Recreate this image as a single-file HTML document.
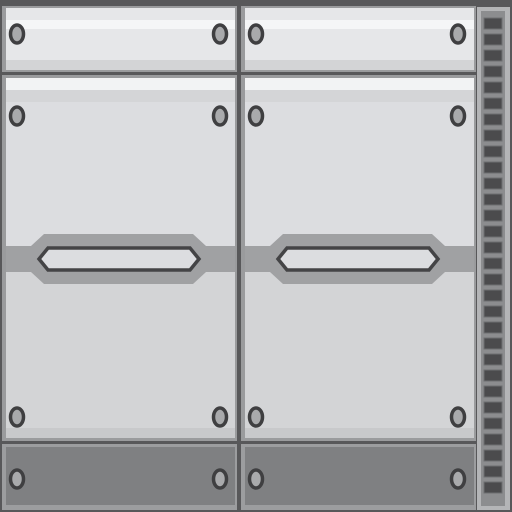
<!DOCTYPE html>
<html><head><style>body{margin:0;background:#555}svg{display:block}</style></head><body>
<svg width="512" height="512" viewBox="0 0 512 512" xmlns="http://www.w3.org/2000/svg">
<rect width="512" height="512" fill="#58585a"/>
<defs>
<g id="screw"><ellipse rx="6.5" ry="9" fill="#a9aaac" stroke="#3f3f41" stroke-width="3.5"/></g>
</defs>
<g>
<rect x="2" y="6" width="235" height="66" fill="#9a9b9d"/>
<rect x="6" y="8" width="229" height="62" fill="#e6e7e9"/>
<rect x="6" y="20" width="229" height="9" fill="#f5f6f7"/>
<rect x="6" y="60" width="229" height="10" fill="#d3d4d6"/>
<rect x="241" y="6" width="235" height="66" fill="#9a9b9d"/>
<rect x="245" y="8" width="229" height="62" fill="#e6e7e9"/>
<rect x="245" y="20" width="229" height="9" fill="#f5f6f7"/>
<rect x="245" y="60" width="229" height="10" fill="#d3d4d6"/>
</g>
<g>
<rect x="2" y="75" width="235" height="366" fill="#9a9b9d"/>
<rect x="6" y="78" width="229" height="360" fill="#dcdde0"/>
<rect x="6" y="78" width="229" height="12" fill="#f2f3f4"/>
<rect x="6" y="90" width="229" height="12" fill="#d4d5d7"/>
<rect x="6" y="272" width="229" height="166" fill="#d3d4d6"/>
<rect x="6" y="428" width="229" height="10" fill="#c8c9cb"/>
<rect x="241" y="75" width="235" height="366" fill="#9a9b9d"/>
<rect x="245" y="78" width="229" height="360" fill="#dcdde0"/>
<rect x="245" y="78" width="229" height="12" fill="#f2f3f4"/>
<rect x="245" y="90" width="229" height="12" fill="#d4d5d7"/>
<rect x="245" y="272" width="229" height="166" fill="#d3d4d6"/>
<rect x="245" y="428" width="229" height="10" fill="#c8c9cb"/>
</g>
<rect x="6" y="246" width="229" height="26" fill="#a0a1a3"/>
<polygon points="44,234 193,234 206,246 206,272 193,284 44,284 31,272 31,246" fill="#a0a1a3"/>
<polygon points="48,248 190,248 199,259 190,270 48,270 39,259" fill="#dcdde0" stroke="#444446" stroke-width="3.5"/>
<rect x="245" y="246" width="229" height="26" fill="#a0a1a3"/>
<polygon points="283,234 432,234 445,246 445,272 432,284 283,284 270,272 270,246" fill="#a0a1a3"/>
<polygon points="287,248 429,248 438,259 429,270 287,270 278,259" fill="#dcdde0" stroke="#444446" stroke-width="3.5"/>
<rect x="2" y="444" width="235" height="66" fill="#9c9d9f"/>
<rect x="6" y="447" width="229" height="58" fill="#7f8082"/>
<rect x="241" y="444" width="235" height="66" fill="#9c9d9f"/>
<rect x="245" y="447" width="229" height="58" fill="#7f8082"/>
<rect x="477" y="7" width="33" height="503" fill="#b4b5b7"/>
<rect x="481" y="11" width="24" height="495" fill="#8c8d8f"/>
<g fill="#4b4b4d" stroke="#6e6f71" stroke-width="1">
<rect x="484" y="18" width="18" height="11"/><rect x="484" y="34" width="18" height="11"/><rect x="484" y="50" width="18" height="11"/><rect x="484" y="66" width="18" height="11"/><rect x="484" y="82" width="18" height="11"/><rect x="484" y="98" width="18" height="11"/><rect x="484" y="114" width="18" height="11"/><rect x="484" y="130" width="18" height="11"/><rect x="484" y="146" width="18" height="11"/><rect x="484" y="162" width="18" height="11"/><rect x="484" y="178" width="18" height="11"/><rect x="484" y="194" width="18" height="11"/><rect x="484" y="210" width="18" height="11"/><rect x="484" y="226" width="18" height="11"/><rect x="484" y="242" width="18" height="11"/><rect x="484" y="258" width="18" height="11"/><rect x="484" y="274" width="18" height="11"/><rect x="484" y="290" width="18" height="11"/><rect x="484" y="306" width="18" height="11"/><rect x="484" y="322" width="18" height="11"/><rect x="484" y="338" width="18" height="11"/><rect x="484" y="354" width="18" height="11"/><rect x="484" y="370" width="18" height="11"/><rect x="484" y="386" width="18" height="11"/><rect x="484" y="402" width="18" height="11"/><rect x="484" y="418" width="18" height="11"/><rect x="484" y="434" width="18" height="11"/><rect x="484" y="450" width="18" height="11"/><rect x="484" y="466" width="18" height="11"/><rect x="484" y="482" width="18" height="11"/>
</g>
<use href="#screw" x="17" y="34"/><use href="#screw" x="220" y="34"/><use href="#screw" x="256" y="34"/><use href="#screw" x="458" y="34"/>
<use href="#screw" x="17" y="116"/><use href="#screw" x="220" y="116"/><use href="#screw" x="256" y="116"/><use href="#screw" x="458" y="116"/>
<use href="#screw" x="17" y="417"/><use href="#screw" x="220" y="417"/><use href="#screw" x="256" y="417"/><use href="#screw" x="458" y="417"/>
<use href="#screw" x="17" y="479"/><use href="#screw" x="220" y="479"/><use href="#screw" x="256" y="479"/><use href="#screw" x="458" y="479"/>
</svg>
</body></html>
